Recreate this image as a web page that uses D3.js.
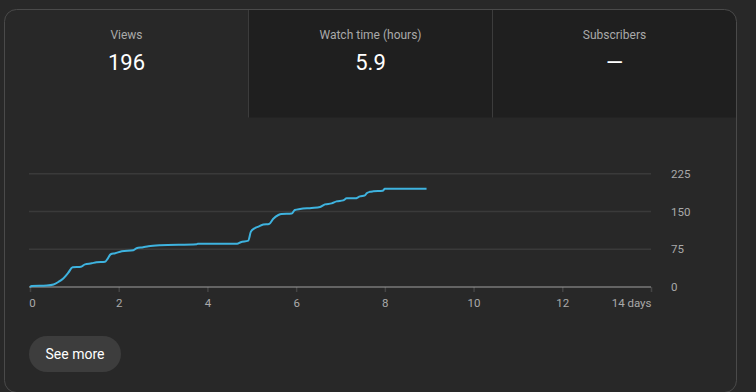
<!DOCTYPE html>
<html>
<head>
<meta charset="utf-8">
<script src="https://cdn.jsdelivr.net/npm/d3@7"></script>
<style>
  html, body { margin: 0; padding: 0; background: #282828; }
  svg { display: block; font-family: Roboto, "Noto Sans", sans-serif; }
</style>
</head>
<body>
<svg id="chart" width="756" height="392"></svg>
<script>
// cumulative views
var days = [0, 0.04, 0.38, 0.53, 0.64, 0.75, 0.86, 0.96, 1.15, 1.24, 1.39, 1.5, 1.69, 1.74, 1.82, 1.92, 2.07, 2.33, 2.4, 2.55, 2.67, 2.93, 3.76, 3.78, 4.67, 4.75, 4.92, 4.98, 5.05, 5.15, 5.26, 5.39, 5.48, 5.6, 5.67, 5.9, 5.97, 6.09, 6.35, 6.54, 6.65, 6.8, 6.91, 7.06, 7.14, 7.33, 7.44, 7.55, 7.59, 7.66, 7.74, 7.95, 8.0, 8.94];
var views = [0, 2, 3, 5, 10, 17, 28, 39, 40, 45, 47, 49, 50, 55, 65, 67, 71, 73, 77, 79, 81, 83, 85, 86, 86, 89, 92, 110, 116, 120, 124, 125, 135, 143, 145, 146, 153, 155, 157, 159, 164, 166, 170, 172, 176, 176, 180, 182, 186, 189, 190, 191, 195, 195];
var xTicks = [0, 2, 4, 6, 8, 10, 12, 14];
var yTicks = [0, 75, 150, 225];
var tabs = [
  { title: "Views", value: "196" },
  { title: "Watch time (hours)", value: "5.9" },
  { title: "Subscribers", value: "—" }
];

var svg = d3.select("#chart");

// card outline + clip
var card = { x: 4.5, y: 9.5, w: 732, h: 383, r: 12 };
svg.append("defs").append("clipPath").attr("id", "cardClip")
  .append("rect")
  .attr("x", card.x).attr("y", card.y)
  .attr("width", card.w).attr("height", card.h)
  .attr("rx", card.r);

svg.append("rect")
  .attr("x", card.x).attr("y", card.y)
  .attr("width", card.w).attr("height", card.h)
  .attr("rx", card.r)
  .attr("fill", "#282828");

// tabs
var tabW = 244, tabTop = 9.5, tabH = 108;
var tabG = svg.append("g").attr("clip-path", "url(#cardClip)");
tabG.selectAll(".tab")
  .data(tabs)
  .enter().append("rect")
  .attr("x", function (d, i) { return 4.5 + i * tabW; })
  .attr("y", tabTop)
  .attr("width", tabW)
  .attr("height", tabH)
  .attr("fill", function (d, i) { return i === 0 ? "#282828" : "#1f1f1f"; });

tabG.selectAll(".sep")
  .data([1, 2])
  .enter().append("line")
  .attr("x1", function (d) { return 4.5 + d * tabW; })
  .attr("x2", function (d) { return 4.5 + d * tabW; })
  .attr("y1", tabTop)
  .attr("y2", tabTop + tabH)
  .attr("stroke", "#3c3c3c")
  .attr("stroke-width", 1);

tabG.selectAll(".tabTitle")
  .data(tabs)
  .enter().append("text")
  .attr("x", function (d, i) { return 4.5 + i * tabW + tabW / 2; })
  .attr("y", 39)
  .attr("text-anchor", "middle")
  .attr("fill", "#aaaaaa")
  .style("font-size", "12px")
  .text(function (d) { return d.title; });

tabG.selectAll(".tabValue")
  .data(tabs)
  .enter().append("text")
  .attr("x", function (d, i) { return 4.5 + i * tabW + tabW / 2; })
  .attr("y", 70)
  .attr("text-anchor", "middle")
  .attr("fill", "#ffffff")
  .style("font-size", "22px")
  .text(function (d) { return d.value; });

// card border on top
svg.append("rect")
  .attr("x", card.x).attr("y", card.y)
  .attr("width", card.w).attr("height", card.h)
  .attr("rx", card.r)
  .attr("fill", "none")
  .attr("stroke", "#4a4a4a")
  .attr("stroke-width", 1);

// chart
var x = d3.scaleLinear().domain([0, 14]).range([30, 651]);
var y = d3.scaleLinear().domain([0, 225]).range([287, 173.7]);

svg.selectAll(".grid")
  .data(yTicks.slice(1))
  .enter().append("line")
  .attr("x1", 29).attr("x2", 651)
  .attr("y1", function (d) { return y(d); })
  .attr("y2", function (d) { return y(d); })
  .attr("stroke", "#3a3a3a")
  .attr("stroke-width", 1.5);

var xAxis = d3.axisBottom(x)
  .tickValues(xTicks)
  .tickSize(5)
  .tickPadding(7)
  .tickFormat(function (d) { return d === 14 ? "14 days" : d; });

var gx = svg.append("g")
  .attr("transform", "translate(0," + y(0) + ")")
  .call(xAxis);
gx.select(".domain").remove();
gx.selectAll(".tick line").attr("stroke", "#444").attr("stroke-width", 1.5);
gx.selectAll(".tick text")
  .attr("fill", "#aaaaaa")
  .style("font-size", "11.5px")
  .style("font-family", "Roboto, sans-serif")
  .attr("dx", function (d) { return d === 0 ? 2 : 0; })
  .attr("text-anchor", function (d) { return d === 14 ? "end" : "middle"; });

svg.append("line")
  .attr("x1", 29).attr("x2", 651)
  .attr("y1", y(0)).attr("y2", y(0))
  .attr("stroke", "#a0a0a0")
  .attr("stroke-width", 1.2);

var yAxis = d3.axisRight(y)
  .tickValues(yTicks)
  .tickSize(0)
  .tickPadding(0);
var gy = svg.append("g")
  .attr("transform", "translate(671,0)")
  .call(yAxis);
gy.select(".domain").remove();
gy.selectAll(".tick text")
  .attr("fill", "#aaaaaa")
  .style("font-size", "11.5px")
  .style("font-family", "Roboto, sans-serif");

var pts = days.map(function (d, i) { return [d, views[i]]; });
var line = d3.line()
  .x(function (d) { return x(d[0]); })
  .y(function (d) { return y(d[1]); })
  .curve(d3.curveMonotoneX);

svg.append("path")
  .datum(pts)
  .attr("d", line)
  .attr("fill", "none")
  .attr("stroke", "#3eb3df")
  .attr("stroke-width", 2);

// button
var btn = svg.append("g");
btn.append("rect")
  .attr("x", 29).attr("y", 336)
  .attr("width", 92).attr("height", 36)
  .attr("rx", 18)
  .attr("fill", "#3d3d3d");
btn.append("text")
  .attr("x", 75).attr("y", 359)
  .attr("text-anchor", "middle")
  .attr("fill", "#ffffff")
  .style("font-size", "14px")
  .style("font-weight", 400)
  .text("See more");
</script>
</body>
</html>
